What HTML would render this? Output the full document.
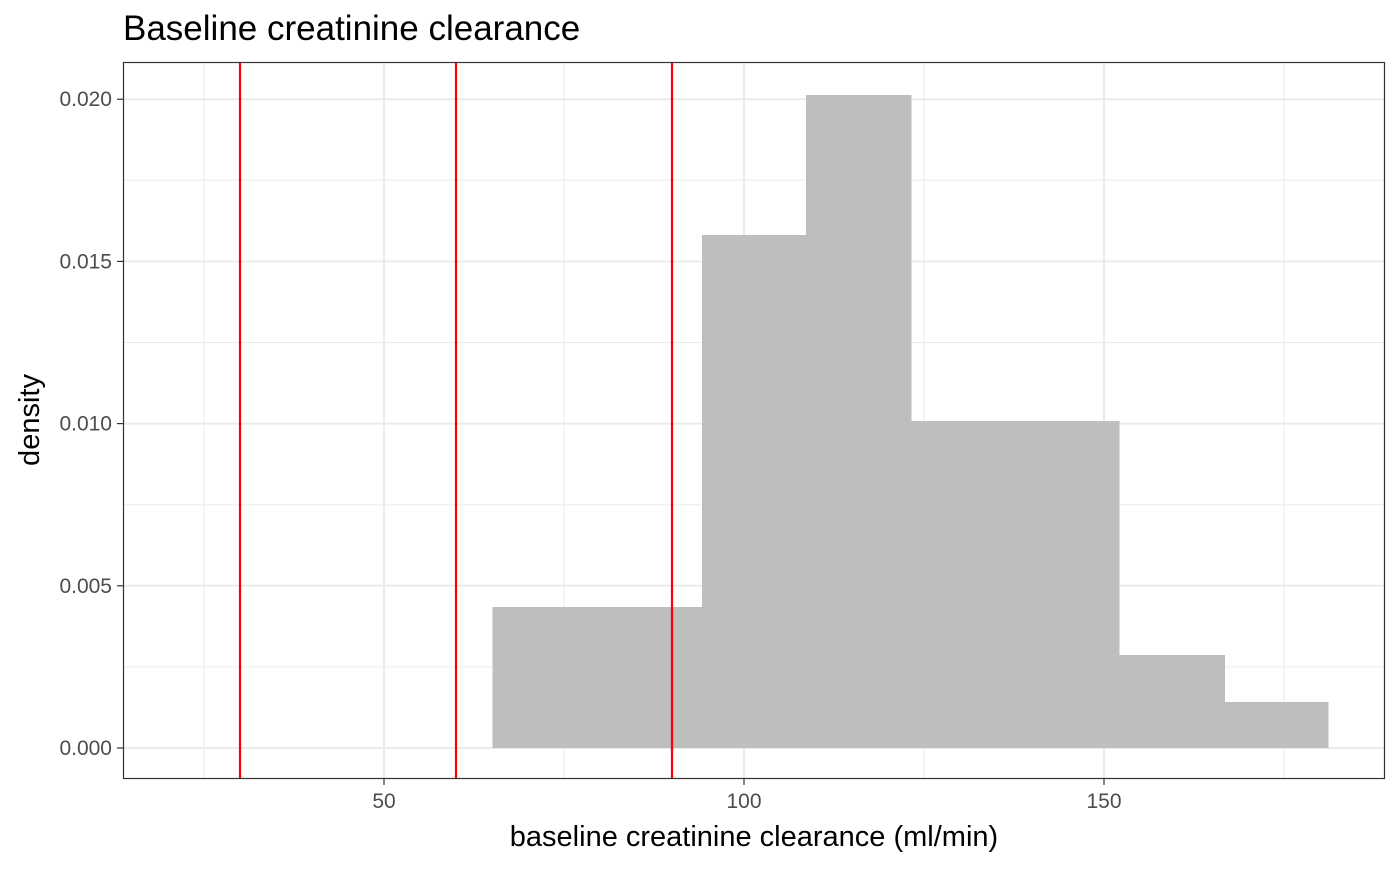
<!DOCTYPE html>
<html><head><meta charset="utf-8"><style>
body{margin:0;background:#fff;font-family:"Liberation Sans",Arial,sans-serif}
svg text{font-family:"Liberation Sans",Arial,sans-serif}
</style></head><body>
<svg id="c" width="1400" height="866" xmlns="http://www.w3.org/2000/svg">
<text x="123" y="40" font-size="35" fill="#000">Baseline creatinine clearance</text>
<text x="754" y="846" font-size="29" text-anchor="middle" fill="#000">baseline creatinine clearance (ml/min)</text>
<text transform="translate(39,420) rotate(-90)" font-size="29" text-anchor="middle" fill="#000">density</text>
<g id="grid"></g><g id="bars" shape-rendering="crispEdges"></g><g id="vlines"></g><g id="axes"></g>
<rect x="123.5" y="62.5" width="1261" height="716" fill="none" stroke="#333" stroke-width="1.2"/>
</svg>
<script>
const binEdges=[65.1,94.2,108.6,123.2,152.1,166.7,181.1];
const binDensity=[0.00435,0.01581,0.02013,0.01008,0.00287,0.00142];
const refLines=[30,60,90];
const xTicks=[50,100,150];
const xMinor=[25,75,125,175];
const yTicks=[0,0.005,0.010,0.015,0.020];
const yTickLabels=["0.000","0.005","0.010","0.015","0.020"];
const yMinor=[0.0025,0.0075,0.0125,0.0175];
const X=v=>24+v*7.2;
const Y=v=>748-v*32440;
const NS="http://www.w3.org/2000/svg";
function mk(tag,attrs,parent){const e=document.createElementNS(NS,tag);for(const k in attrs)e.setAttribute(k,attrs[k]);document.getElementById(parent).appendChild(e);return e;}
xMinor.forEach(v=>{const l=mk('line',{x1:X(v),x2:X(v),y1:62,y2:779,stroke:'#ebebeb','stroke-width':1},'grid');

});
yMinor.forEach(v=>{const l=mk('line',{x1:123,x2:1385,y1:Y(v),y2:Y(v),stroke:'#ebebeb','stroke-width':1},'grid');

});
xTicks.forEach(v=>{const l=mk('line',{x1:X(v),x2:X(v),y1:62,y2:779,stroke:'#ebebeb','stroke-width':2},'grid');


const t=mk('line',{x1:X(v),x2:X(v),y1:779,y2:785,stroke:'#333','stroke-width':1.2},'axes');


const tx=mk('text',{x:X(v),y:808,'font-size':21,'text-anchor':'middle',fill:'#4d4d4d'},'axes');tx.textContent=v;

});
yTicks.forEach((v,i)=>{const l=mk('line',{x1:123,x2:1385,y1:Y(v),y2:Y(v),stroke:'#ebebeb','stroke-width':2},'grid');


const t=mk('line',{x1:117,x2:123,y1:Y(v),y2:Y(v),stroke:'#333','stroke-width':1.2},'axes');


const tx=mk('text',{x:112,y:Y(v)+7,'font-size':21,'text-anchor':'end',fill:'#4d4d4d'},'axes');tx.textContent=yTickLabels[i];

});
binDensity.forEach((d,i)=>{const r=mk('rect',{x:X(binEdges[i]),y:Y(d),width:X(binEdges[i+1])-X(binEdges[i])+0.6,height:Y(0)-Y(d),fill:'#bebebe'},'bars');

});
refLines.forEach(v=>{const l=mk('line',{x1:X(v),x2:X(v),y1:62,y2:779,stroke:'#ff0000','stroke-width':2.2},'vlines');

});
</script>
</body></html>
